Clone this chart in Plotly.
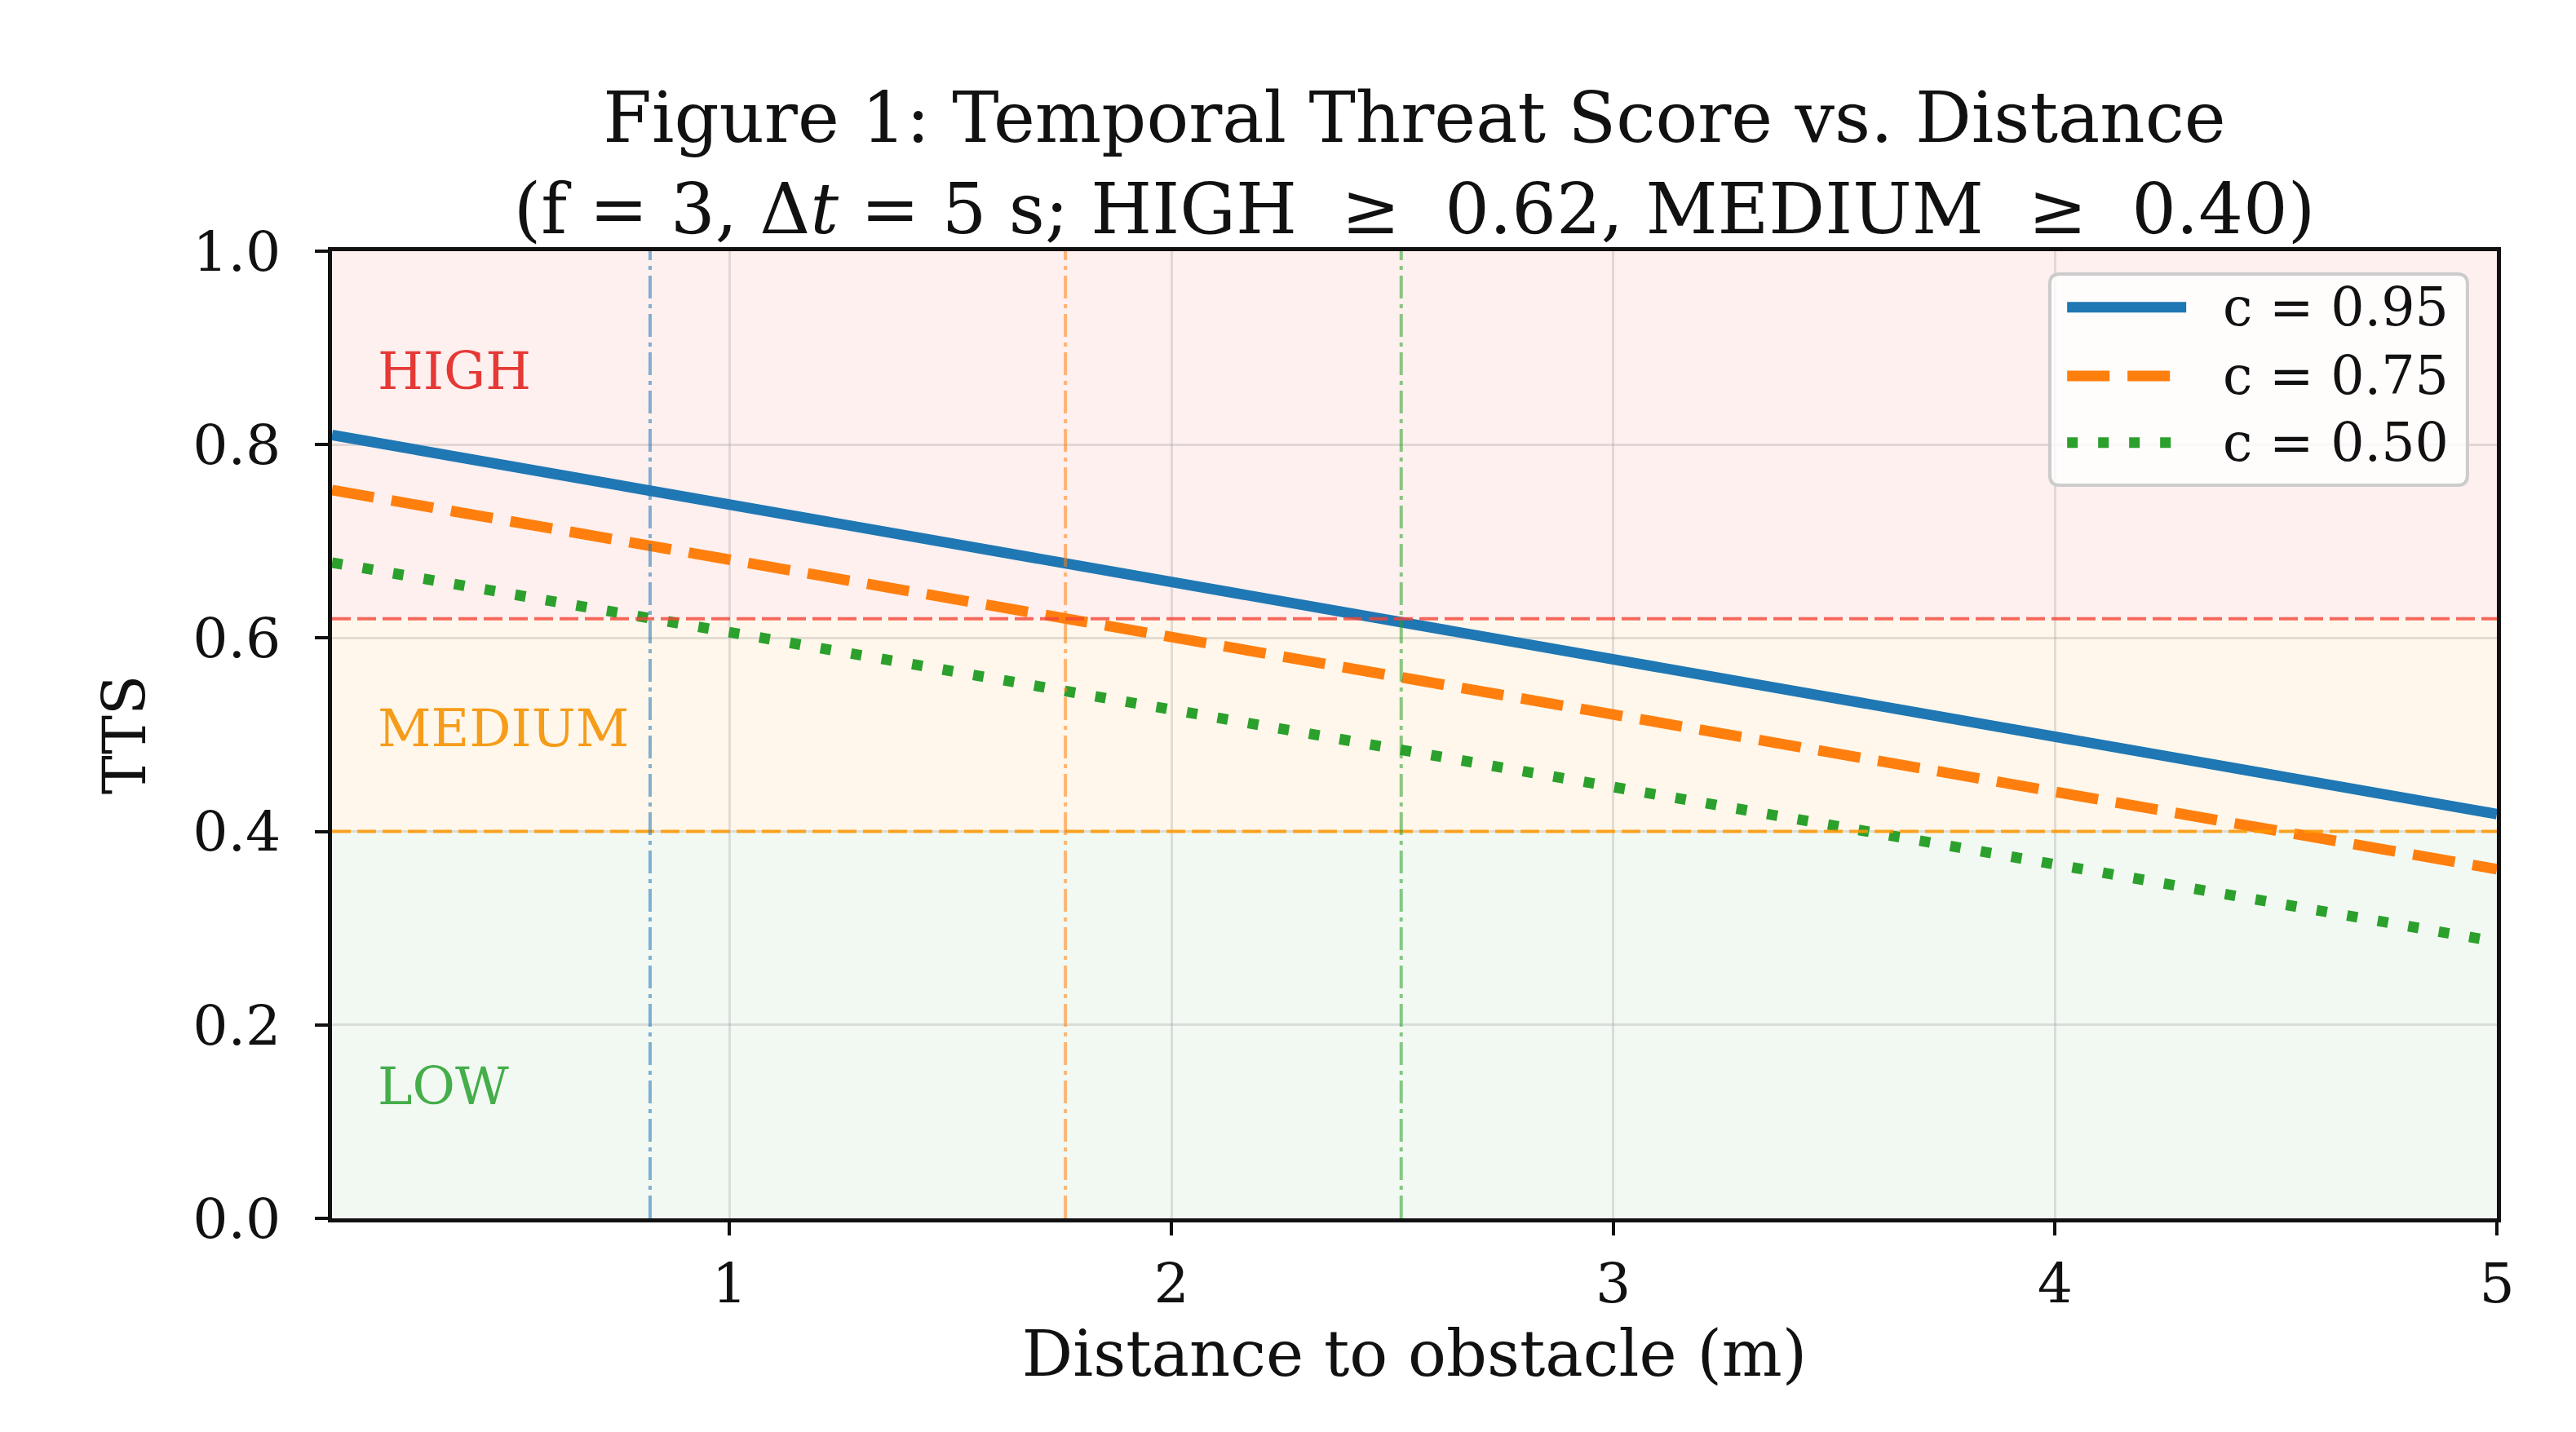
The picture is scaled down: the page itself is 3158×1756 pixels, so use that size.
import plotly.graph_objects as go

# ---------------- data ----------------
distance = [0.1, 1.0, 2.0, 3.0, 4.0, 5.0]
tts_c095 = [0.810, 0.738, 0.658, 0.578, 0.498, 0.418]
tts_c075 = [0.753, 0.681, 0.601, 0.521, 0.441, 0.361]
tts_c050 = [0.678, 0.606, 0.526, 0.446, 0.366, 0.286]
series_names = ["c = 0.95", "c = 0.75", "c = 0.50"]

high_threshold = 0.62
medium_threshold = 0.40

band_names = ["HIGH", "MEDIUM", "LOW"]
band_lower = [0.62, 0.40, 0.0]
band_upper = [1.0, 0.62, 0.40]
band_label_y = [0.876, 0.507, 0.137]
band_label_x = 0.2

crossing_distance = [0.82, 1.76, 2.52]

x_ticks = [1, 2, 3, 4, 5]
y_ticks = [0.0, 0.2, 0.4, 0.6, 0.8, 1.0]
y_tick_text = ["0.0", "0.2", "0.4", "0.6", "0.8", "1.0"]

# ---------------- styles ----------------
FONT = "DejaVu Serif"
series_colors = ["#1f77b4", "#ff7f0e", "#2ca02c"]
series_dash = ["solid", "52px,22px", "13px,25px"]
band_fill = ["rgba(244,67,54,0.08)", "rgba(255,152,0,0.08)", "rgba(76,175,80,0.07)"]
band_text = ["#e53935", "#f59c1a", "#45ad4a"]
crossing_colors = ["rgba(31,119,180,0.55)", "rgba(255,127,14,0.55)", "rgba(44,160,44,0.55)"]

fig = go.Figure()

series = [tts_c095, tts_c075, tts_c050]
for name, ys, col, dash in zip(series_names, series, series_colors, series_dash):
    fig.add_trace(go.Scatter(
        x=distance, y=ys, mode="lines", name=name,
        line=dict(color=col, width=13, dash=dash),
        showlegend=False,
    ))

shapes = []
# background risk bands
for lo, hi, fc in zip(band_lower, band_upper, band_fill):
    shapes.append(dict(type="rect", xref="x domain", yref="y", x0=0, x1=1, y0=lo, y1=hi,
                       fillcolor=fc, line=dict(width=0), layer="below"))
# threshold lines
shapes.append(dict(type="line", xref="x domain", yref="y", x0=0, x1=1,
                   y0=high_threshold, y1=high_threshold,
                   line=dict(color="rgba(244,67,54,0.8)", width=4, dash="23px,8px")))
shapes.append(dict(type="line", xref="x domain", yref="y", x0=0, x1=1,
                   y0=medium_threshold, y1=medium_threshold,
                   line=dict(color="rgba(255,152,0,0.85)", width=4, dash="23px,8px")))
# crossing distance lines
for xd, col in zip(crossing_distance, crossing_colors):
    shapes.append(dict(type="line", xref="x", yref="y domain", x0=xd, x1=xd, y0=0, y1=1,
                       line=dict(color=col, width=4, dash="28px,7px,5px,7px")))

# custom legend (box + samples) in axis-domain coordinates
lx0, lx1, ly0, ly1 = 0.7935, 0.9864, 0.7580, 0.9764
rx, ry = 12 / 2654, 12 / 1186
legend_path = (
    f"M{lx0+rx},{ly1} L{lx1-rx},{ly1} Q{lx1},{ly1} {lx1},{ly1-ry} "
    f"L{lx1},{ly0+ry} Q{lx1},{ly0} {lx1-rx},{ly0} "
    f"L{lx0+rx},{ly0} Q{lx0},{ly0} {lx0},{ly0+ry} "
    f"L{lx0},{ly1-ry} Q{lx0},{ly1} {lx0+rx},{ly1} Z"
)
shapes.append(dict(type="path", xref="x domain", yref="y domain", path=legend_path,
                   fillcolor="rgba(255,255,255,0.8)", line=dict(color="#cccccc", width=4)))
legend_rows = [0.942, 0.871, 0.802]
for row, col, dash in zip(legend_rows, series_colors, series_dash):
    shapes.append(dict(type="line", xref="x domain", yref="y domain", x0=0.8015, x1=0.8565,
                       y0=row, y1=row, line=dict(color=col, width=13, dash=dash)))

annotations = []
for row, name in zip(legend_rows, series_names):
    annotations.append(dict(xref="x domain", yref="y domain", x=0.8725, y=row, text=name,
                            showarrow=False, xanchor="left", yanchor="middle",
                            font=dict(family=FONT, size=65, color="#111111")))
for name, y, col in zip(band_names, band_label_y, band_text):
    annotations.append(dict(xref="x", yref="y", x=band_label_x, y=y, text=name,
                            showarrow=False, xanchor="left", yanchor="middle",
                            font=dict(family=FONT, size=64, color=col)))

fig.update_layout(
    width=3158, height=1756,
    margin=dict(l=407, r=97, t=308, b=262),
    paper_bgcolor="white", plot_bgcolor="white",
    font=dict(family=FONT, color="#111111"),
    title=dict(
        text="Figure 1: Temporal Threat Score vs. Distance<br>(f = 3, Δ<i>t</i> = 5 s; HIGH  ≥  0.62, MEDIUM  ≥  0.40)",
        x=0.5, xref="paper", xanchor="center",
        y=1 - 174 / 1756, yref="container", yanchor="top",
        font=dict(family=FONT, size=86, color="#111111"),
    ),
    shapes=shapes,
    annotations=annotations,
    showlegend=False,
)

fig.update_xaxes(
    range=[0.1, 5.0], tickvals=x_ticks, ticktext=[str(t) for t in x_ticks],
    showgrid=True, gridcolor="rgba(150,150,150,0.28)", gridwidth=3,
    zeroline=False, showline=True, linecolor="#111111", linewidth=5, mirror=True,
    ticks="outside", ticklen=16, tickwidth=4, tickcolor="#111111",
    tickfont=dict(family=FONT, size=68, color="#111111"), ticklabelstandoff=0,
    title=dict(text="Distance to obstacle (m)", font=dict(family=FONT, size=78, color="#111111"),
               standoff=22),
)
fig.update_yaxes(
    range=[0.0, 1.0], tickvals=y_ticks, ticktext=y_tick_text,
    showgrid=True, gridcolor="rgba(150,150,150,0.28)", gridwidth=3,
    zeroline=False, showline=True, linecolor="#111111", linewidth=5, mirror=True,
    ticks="outside", ticklen=16, tickwidth=4, tickcolor="#111111",
    tickfont=dict(family=FONT, size=68, color="#111111"), ticklabelstandoff=28,
    title=dict(text="TTS", font=dict(family=FONT, size=72, color="#111111"), standoff=36),
)

fig.write_html("out.html")
